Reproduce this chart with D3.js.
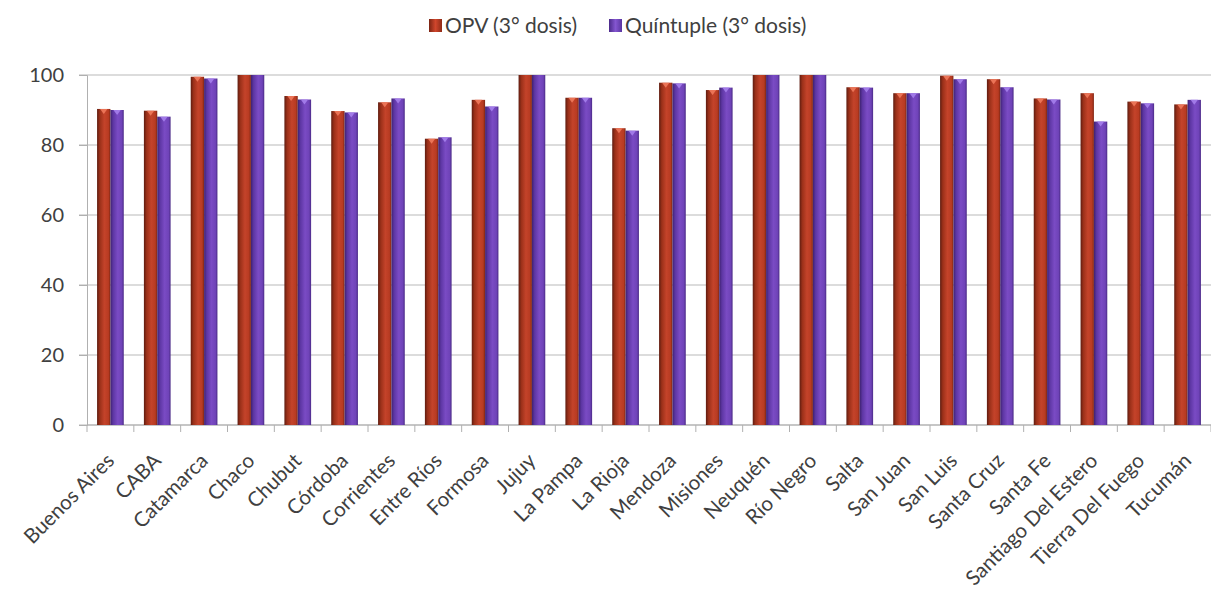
<!DOCTYPE html>
<html>
<head>
<meta charset="utf-8">
<script src="https://cdn.jsdelivr.net/npm/d3@7"></script>
<style>
  html, body { margin: 0; padding: 0; background: #fff; }
  svg { display: block; }
  text { font-family: Lato, "Open Sans", sans-serif; fill: #404040; }
</style>
</head>
<body>
<svg id="chart" width="1211" height="602"></svg>
<script>
// Provinces of Argentina
const provinces = ["Buenos Aires", "CABA", "Catamarca", "Chaco", "Chubut", "Córdoba",
  "Corrientes", "Entre Ríos", "Formosa", "Jujuy", "La Pampa", "La Rioja", "Mendoza",
  "Misiones", "Neuquén", "Río Negro", "Salta", "San Juan", "San Luis", "Santa Cruz",
  "Santa Fe", "Santiago Del Estero", "Tierra Del Fuego", "Tucumán"];

// Coverage (%) per vaccine
const opv = [90.3, 89.8, 99.5, 100, 94.0, 89.7, 92.2, 81.8, 92.9, 100, 93.5, 84.8, 97.8,
  95.7, 100, 100, 96.5, 94.8, 99.8, 98.8, 93.3, 94.8, 92.4, 91.6];
const quintuple = [90.0, 88.1, 99.0, 100, 93.0, 89.3, 93.3, 82.2, 91.0, 100, 93.5, 84.1, 97.6,
  96.4, 100, 100, 96.4, 94.8, 98.8, 96.5, 93.0, 86.7, 91.9, 92.9];

const seriesNames = ["OPV (3° dosis)", "Quíntuple (3° dosis)"];
const yTicks = [0, 20, 40, 60, 80, 100];

const W = 1211, H = 602;
const margin = { top: 75, right: 0, bottom: 177, left: 87 };
const svg = d3.select("#chart");
const defs = svg.append("defs");

// Horizontal shading that gives each bar a rounded 3D look
function shade(id, stops) {
  const g = defs.append("linearGradient").attr("id", id)
    .attr("x1", "0%").attr("x2", "100%").attr("y1", "0%").attr("y2", "0%");
  stops.forEach(([o, c]) => g.append("stop").attr("offset", o).attr("stop-color", c));
}
shade("gRed", [["0%", "#5e1c10"], ["20%", "#9a3019"], ["55%", "#c4432a"], ["85%", "#b83b22"], ["100%", "#7e2614"]]);
shade("gPur", [["0%", "#3e2170"], ["20%", "#5d36a3"], ["55%", "#7a4bc4"], ["85%", "#6f43b8"], ["100%", "#4a2a86"]]);
shade("lgRed", [["0%", "#7a2413"], ["50%", "#d0462c"], ["100%", "#8e2b17"]]);
shade("lgPur", [["0%", "#4b2a8a"], ["50%", "#8456d0"], ["100%", "#5a35a0"]]);

const x0 = d3.scaleBand().domain(provinces)
  .range([margin.left, W - margin.right]).paddingInner(0.43).paddingOuter(0.215);
const x1 = d3.scaleBand().domain([0, 1]).range([0, x0.bandwidth()]);
const y = d3.scaleLinear().domain([0, 100]).range([H - margin.bottom, margin.top]);

// Grid lines (extending a little to the left of the axis as tick marks)
svg.append("g").selectAll("line").data(yTicks).join("line")
  .attr("x1", margin.left - 8).attr("x2", W - margin.right)
  .attr("y1", d => y(d)).attr("y2", d => y(d))
  .attr("stroke", "#b9b9b9").attr("stroke-width", 1.2);

// Y axis
const yAxis = svg.append("g").attr("transform", `translate(${margin.left},0)`)
  .call(d3.axisLeft(y).tickValues(yTicks).tickSize(8).tickPadding(15));
yAxis.select(".domain").attr("stroke", "#b0b0b0");
yAxis.selectAll(".tick line").attr("stroke", "#b0b0b0");
yAxis.selectAll(".tick text").attr("font-size", 20).style("font-family", "Lato, sans-serif").attr("fill", "#4a4a4a");

// X axis with ticks on category boundaries
const xAxisG = svg.append("g").attr("transform", `translate(0,${y(0)})`);
xAxisG.append("line").attr("x1", margin.left).attr("x2", W - margin.right)
  .attr("stroke", "#b0b0b0").attr("stroke-width", 1.2);
const step = x0.step();
xAxisG.selectAll("line.tk").data(d3.range(provinces.length + 1)).join("line")
  .attr("class", "tk")
  .attr("x1", i => margin.left + i * step).attr("x2", i => margin.left + i * step)
  .attr("y1", 0).attr("y2", 7).attr("stroke", "#b0b0b0");
xAxisG.selectAll("text").data(provinces).join("text")
  .attr("transform", d => `translate(${x0(d) + x0.bandwidth() / 2 + 5},${37}) rotate(-45)`)
  .attr("text-anchor", "end")
  .attr("font-size", 20.5).text(d => d);

// Bars
const series = [opv, quintuple];
const fills = ["url(#gRed)", "url(#gPur)"];
const caps = ["#f07a5c", "#a580ec"];
const groups = svg.append("g").selectAll("g").data(provinces).join("g")
  .attr("transform", d => `translate(${x0(d)},0)`);
series.forEach((vals, s) => {
  const v = d => vals[provinces.indexOf(d)];
  groups.append("rect")
    .attr("x", x1(s)).attr("width", x1.bandwidth())
    .attr("y", d => y(v(d)))
    .attr("height", d => y(0) - y(v(d)))
    .attr("fill", fills[s]);
  // small bevel highlight at the top of each bar
  groups.filter(d => v(d) < 100).append("path")
    .attr("d", d => {
      const bx = x1(s), bw = x1.bandwidth(), ty = y(v(d));
      return `M${bx + 3},${ty} L${bx + bw - 3},${ty} L${bx + bw / 2},${ty + 5} Z`;
    })
    .attr("fill", caps[s]).attr("opacity", 0.9);
});

// Legend
const legend = svg.append("g");
const legendItems = [
  { x: 429, name: seriesNames[0], fill: "url(#lgRed)" },
  { x: 609, name: seriesNames[1], fill: "url(#lgPur)" }
];
legendItems.forEach(it => {
  legend.append("rect").attr("x", it.x).attr("y", 19).attr("width", 13).attr("height", 13).attr("fill", it.fill);
  legend.append("text").attr("x", it.x + 16).attr("y", 33).attr("font-size", 21).text(it.name);
});
</script>
</body>
</html>
